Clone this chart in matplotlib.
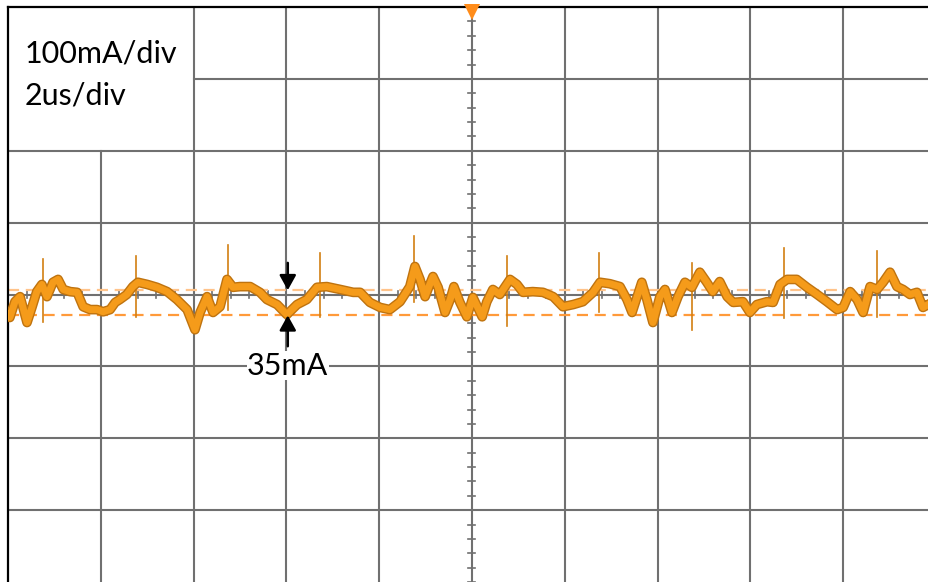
import numpy as np
import matplotlib
matplotlib.use('Agg')
import matplotlib.pyplot as plt
import matplotlib.patheffects as pe

# scope settings: 2us/div horizontally, 100mA/div vertically
t_us = [-10.00, -9.96, -9.85, -9.74, -9.59, -9.48, -9.38, -9.27, -9.16, -9.03,
        -8.92, -8.81, -8.66, -8.51, -8.38, -8.23, -8.08, -7.95, -7.80, -7.69,
        -7.59, -7.44, -7.31, -7.20, -7.00, -6.79, -6.57, -6.36, -6.14, -5.97,
        -5.86, -5.71, -5.58, -5.43, -5.28, -5.15, -5.00, -4.78, -4.57, -4.42,
        -4.20, -3.99, -3.77, -3.56, -3.34, -3.13, -2.84, -2.56, -2.41, -2.20,
        -1.98, -1.77, -1.55, -1.34, -1.23, -1.12, -1.01, -0.91, -0.84, -0.73,
        -0.58, -0.47, -0.39, -0.26, -0.11, 0.02, 0.22, 0.32, 0.45, 0.60,
        0.82, 0.97, 1.10, 1.31, 1.53, 1.75, 1.96, 2.18, 2.39, 2.61,
        2.76, 2.97, 3.19, 3.34, 3.45, 3.56, 3.66, 3.77, 3.90, 4.05,
        4.16, 4.31, 4.44, 4.59, 4.74, 4.91, 5.06, 5.19, 5.34, 5.50,
        5.63, 5.84, 5.99, 6.14, 6.36, 6.49, 6.64, 6.79, 7.00, 7.22,
        7.44, 7.65, 7.87, 8.00, 8.15, 8.30, 8.43, 8.58, 8.73, 8.86,
        9.01, 9.16, 9.29, 9.44, 9.59, 9.72, 9.83]
i_mA = [-28, -32, -10, -3, -39, -17, 4, 14, -3, 17,
        21, 7, 4, 3, -17, -21, -21, -24, -21, -11,
        -7, 0, 11, 17, 14, 10, 4, -7, -21, -49,
        -25, -3, -25, -17, 21, 10, 11, 11, 3, -7,
        -14, -28, -14, -7, 10, 11, 7, 3, 3, -11,
        -18, -21, -10, 11, 39, 21, -3, 14, 25, 10,
        -25, -7, 11, -11, -31, -4, -31, -10, 7, 0,
        21, 14, 3, 4, 3, -3, -17, -14, -10, 3,
        17, 15, 11, -7, -25, -3, 17, -7, -39, -3,
        7, -25, -3, 17, 10, 31, 17, 4, 18, -3,
        -11, -10, -25, -14, -10, -11, 14, 21, 21, 10,
        0, -10, -21, -18, 4, -7, -25, 11, 7, 17,
        31, 11, 7, 0, 3, -18, -14]

# narrow switching spikes
spike_t = [-9.25, -7.24, -5.26, -3.28, -1.25, 0.75, 2.74, 4.74, 6.72, 8.73]
spike_top = [49, 53, 69, 58, 81, 53, 58, 44, 65, 60]
spike_bot = [-38, -31, -21, -31, -11, -44, -25, -49, -32, -31]

# cursors
cursor_hi = 6
cursor_lo = -29
ripple_label = '35mA'
scale_lines = ['100mA/div', '2us/div']

fig = plt.figure(figsize=(9.29, 5.82), dpi=100)
ax = fig.add_axes([8/929, 0, 921/929, 575/582])
xmin, xmax = -10, 9.85
ymin, ymax = -400, 400
ax.set_xlim(xmin, xmax)
ax.set_ylim(ymin, ymax)
ax.set_xticks([])
ax.set_yticks([])
for s in ['right', 'bottom']:
    ax.spines[s].set_visible(False)
for s in ['top', 'left']:
    ax.spines[s].set_linewidth(1.6)
    ax.spines[s].set_color('black')

grid_c = '#707070'
# vertical grid, leave the label box clear
for x in np.arange(-8, 10, 2):
    top = 200 if x == -8 else ymax
    ax.plot([x, x], [ymin, top], color=grid_c, lw=1.5, zorder=1)
for y in np.arange(-300, 400, 100):
    left = -6 if y == 300 else xmin
    ax.plot([left, xmax], [y, y], color=grid_c, lw=1.5, zorder=1)

# minor ticks on center axes
for y in np.arange(-400, 401, 20):
    ax.plot([-0.075, 0.075], [y, y], color=grid_c, lw=1.2, zorder=1)
for x in np.arange(-10, 10, 0.4):
    ax.plot([x, x], [-5, 5], color=grid_c, lw=1.2, zorder=1)

# cursors
ax.axhline(cursor_hi, color='#ffc38a', lw=1.6, ls=(0, (5, 3)), zorder=2)
ax.axhline(cursor_lo, color='#ff9a3a', lw=1.6, ls=(0, (5, 3)), zorder=2)

# spikes
for t, a, b in zip(spike_t, spike_top, spike_bot):
    ax.plot([t, t], [b, a], color='#d27f12', lw=1.2, zorder=3)

# trace
ax.plot(t_us, i_mA, color='#f59b1a', lw=5.0, solid_joinstyle='round', zorder=4,
        path_effects=[pe.Stroke(linewidth=7.0, foreground='#bf730f'), pe.Normal()])

# trigger marker
ax.plot([0], [393], marker='v', markersize=11, color='#ff8c1a', clip_on=False,
        zorder=6, markeredgewidth=0)

# ripple arrows
arrow = dict(arrowstyle='-|>,head_width=0.5,head_length=0.9', color='black',
             lw=1.8, shrinkA=0, shrinkB=0)
ax.annotate('', xy=(-3.97, cursor_hi), xytext=(-3.97, 44), arrowprops=arrow,
            zorder=7)
ax.annotate('', xy=(-3.97, cursor_lo), xytext=(-3.97, -72), arrowprops=arrow,
            zorder=7)
ax.text(-3.97, -99, ripple_label, ha='center', va='center', fontsize=22,
        family='Lato', zorder=7,
        bbox=dict(facecolor='white', edgecolor='none', pad=0.5))

fig.text(25/929, 1 - 63/582, scale_lines[0], ha='left', va='baseline',
         fontsize=22, family='Lato')
fig.text(25/929, 1 - 105/582, scale_lines[1], ha='left', va='baseline',
         fontsize=22, family='Lato')

fig.savefig('out.png', dpi=100)
